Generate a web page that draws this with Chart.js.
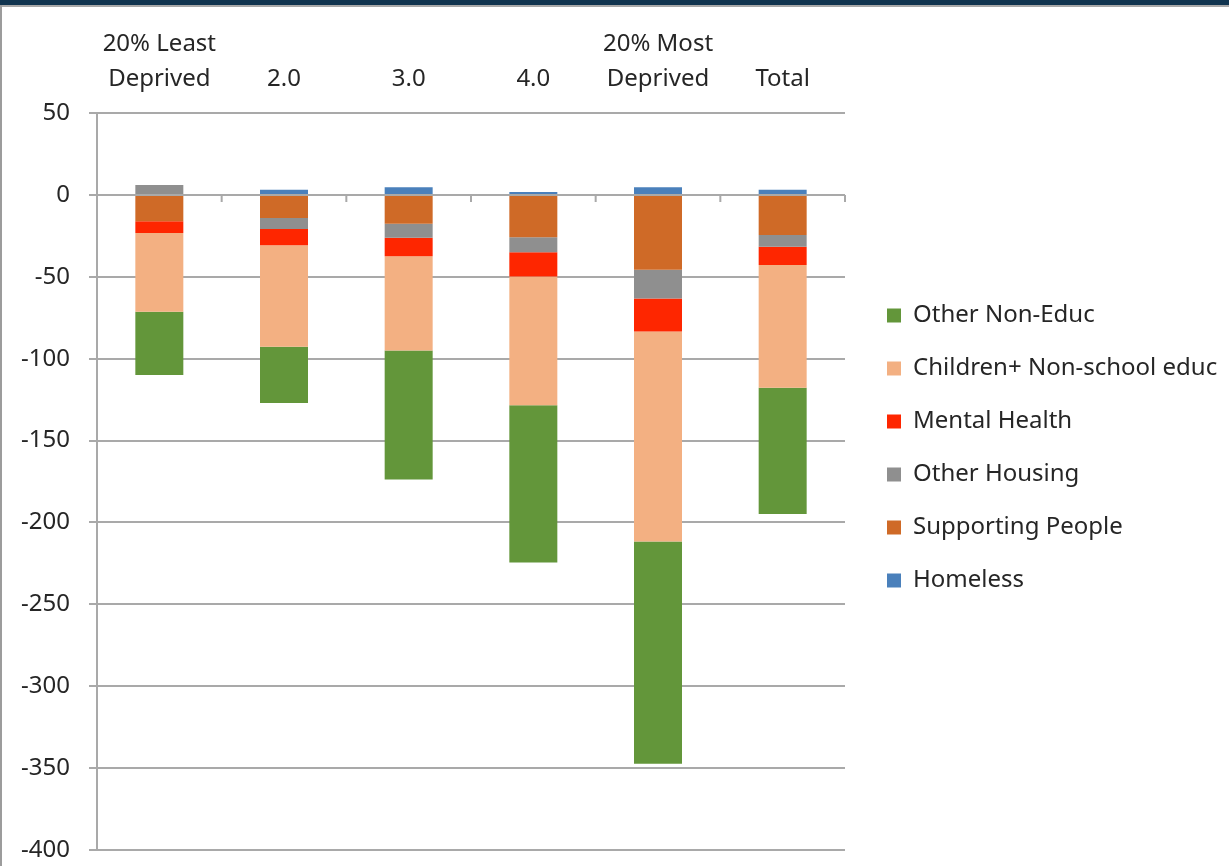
<!DOCTYPE html>
<html>
<head>
<meta charset="utf-8">
<script src="https://cdn.jsdelivr.net/npm/chart.js@4.4.1/dist/chart.umd.min.js"></script>
<style>
  html, body { margin: 0; padding: 0; background: #ffffff; width: 1229px; height: 866px; overflow: hidden; }
  #topband { position: absolute; left: 0; top: 0; width: 1229px; height: 5px; background: #10344f; }
  #topline { position: absolute; left: 0; top: 5px; width: 1229px; height: 2px; background: #a8a8a8; }
  #leftline { position: absolute; left: 0; top: 5px; width: 2px; height: 861px; background: #9c9c9c; }
  #wrap { position: absolute; left: 0; top: 0; width: 1229px; height: 866px; }
</style>
</head>
<body>
<div id="topband"></div>
<div id="topline"></div>
<div id="leftline"></div>
<div id="wrap"><canvas id="c" width="1229" height="866"></canvas></div>
<script>
// ---- data ----
const categories = [["20% Least", "Deprived"], "2.0", "3.0", "4.0", ["20% Most", "Deprived"], "Total"];
const seriesNames = ["Homeless", "Supporting People", "Other Housing", "Mental Health", "Children+ Non-school educ", "Other Non-Educ"];
const homeless          = [0.0,   3.2,   4.7,   1.8,    4.7,    3.2];
const supportingPeople  = [-16.1, -14.1, -17.6, -25.9,  -45.7,  -24.5];
const otherHousing      = [6.1,   -6.7,  -8.5,  -9.2,   -17.5,  -7.1];
const mentalHealth      = [-7.2,  -10.0, -11.4, -14.7,  -20.2,  -11.2];
const childrenNonSchool = [-48.1, -62.0, -57.5, -78.7,  -128.2, -74.9];
const otherNonEduc      = [-38.6, -34.3, -78.8, -95.9,  -135.8, -77.1];
const yMin = -400, yMax = 50, yStep = 50;

// ---- styles ----
const colors = ["#4a80bb", "#cf6a27", "#8f8f8f", "#fe2600", "#f3b082", "#63963a"];
const FONT = "'Noto Sans', 'DejaVu Sans', sans-serif";
const TEXT = "#262626";
const GRID = "#a9a9a9";

const seriesValues = [homeless, supportingPeople, otherHousing, mentalHealth, childrenNonSchool, otherNonEduc];

const legendWidth = {
  id: 'legendWidth',
  beforeUpdate(chart) {
    const lg = chart.legend;
    if (lg && !lg.__wrapped) {
      const orig = lg.fit.bind(lg);
      lg.fit = function () { orig(); this.width = 384; };
      lg.__wrapped = true;
    }
  },
  afterLayout(chart) {
    const lg = chart.legend;
    if (lg) {
      lg.left += 13; lg.right += 13;
      lg.top += 15; lg.bottom += 15;
    }
  }
};

const zeroTicks = {
  id: 'zeroTicks',
  afterDatasetsDraw(chart) {
    const x = chart.scales.x, y = chart.scales.y, ctx = chart.ctx;
    const y0 = y.getPixelForValue(0);
    const n = chart.data.labels.length;
    ctx.save();
    ctx.strokeStyle = GRID;
    ctx.lineWidth = 2;
    ctx.beginPath();
    for (let i = 0; i < n; i++) {
      const px = i < n - 1 ? (x.getPixelForTick(i) + x.getPixelForTick(i + 1)) / 2 : chart.chartArea.right;
      ctx.moveTo(px, y0);
      ctx.lineTo(px, y0 + 7);
    }
    ctx.stroke();
    ctx.restore();
  }
};

new Chart(document.getElementById('c'), {
  type: 'bar',
  data: {
    labels: categories,
    datasets: seriesNames.map((name, i) => ({
      label: name,
      data: seriesValues[i],
      backgroundColor: colors[i],
      borderWidth: 0,
      categoryPercentage: 1.0,
      barPercentage: 0.385
    }))
  },
  options: {
    responsive: false,
    animation: false,
    devicePixelRatio: 1,
    layout: { padding: { top: 0, right: 0, bottom: 0, left: 0 } },
    plugins: {
      legend: {
        position: 'right',
        reverse: true,
        labels: {
          boxWidth: 14,
          boxHeight: 14,
          padding: 29,
          color: TEXT,
          font: { family: FONT, size: 24 }
        }
      },
      tooltip: { enabled: false },
      title: { display: false }
    },
    scales: {
      x: {
        position: 'top',
        stacked: true,
        grid: { display: false },
        border: { display: false },
        ticks: {
          color: TEXT,
          padding: 8.5,
          maxRotation: 0,
          autoSkip: false,
          font: { family: FONT, size: 24, lineHeight: 1.458 }
        },
        afterFit(scale) { scale.height = 113; }
      },
      y: {
        stacked: true,
        min: yMin,
        max: yMax,
        grid: { color: GRID, lineWidth: 2, tickLength: 8, drawTicks: true },
        border: { display: true, color: GRID, width: 2 },
        ticks: {
          stepSize: yStep,
          color: TEXT,
          padding: 19,
          font: { family: FONT, size: 24 }
        },
        afterFit(scale) { scale.width = 97; scale.paddingBottom = 16; scale.paddingTop = 0; }
      }
    }
  },
  plugins: [legendWidth, zeroTicks]
});
</script>
</body>
</html>
